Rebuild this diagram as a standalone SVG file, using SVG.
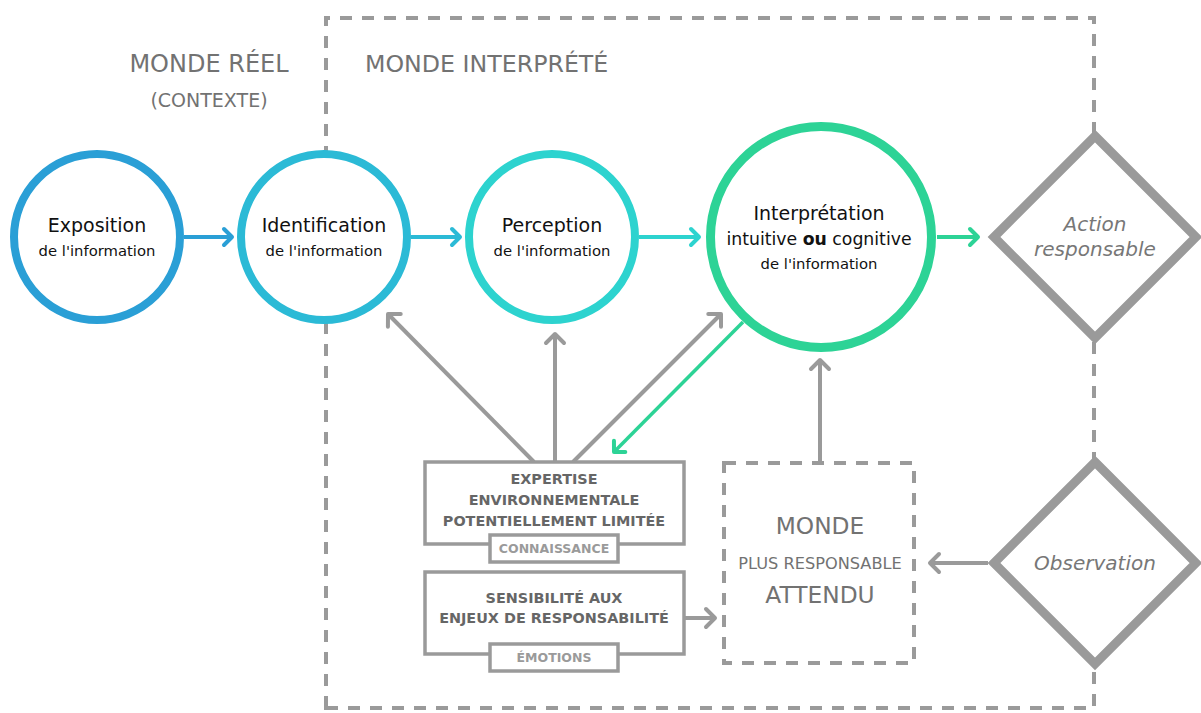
<svg xmlns="http://www.w3.org/2000/svg" width="1201" height="713" viewBox="0 0 1201 713">
<style>
text{font-family:"DejaVu Sans","Liberation Sans",sans-serif;}
.hdr{fill:#727272;}
.ct{fill:#111;text-anchor:middle;}
.frame{fill:none;stroke:#9a9a9a;stroke-width:4;stroke-dasharray:12 10;}
.box{fill:#fff;stroke:#9a9a9a;stroke-width:3.5;}
.bt{fill:#666;font-weight:bold;font-size:14.4px;text-anchor:middle;}
.st{fill:#9a9a9a;font-weight:bold;font-size:12.5px;text-anchor:middle;}
.dia{fill:#fff;stroke:#9a9a9a;stroke-width:9;}
.it{fill:#777;font-style:italic;font-size:20px;text-anchor:middle;}
.cg{fill:none;stroke:#9a9a9a;stroke-width:4;}
</style>
<defs>
<marker id="mg" viewBox="-12 -11 15 22" markerWidth="15" markerHeight="22" refX="0" refY="0" orient="auto" markerUnits="userSpaceOnUse" overflow="visible"><path d="M-9,-9 L0,0 L-9,9" fill="none" stroke="#9a9a9a" stroke-width="4" stroke-linecap="round" stroke-linejoin="round"/></marker>
<marker id="m1" viewBox="-12 -11 15 22" markerWidth="15" markerHeight="22" refX="0" refY="0" orient="auto" markerUnits="userSpaceOnUse" overflow="visible"><path d="M-8,-8 L0,0 L-8,8" fill="none" stroke="#2a9fd6" stroke-width="4" stroke-linecap="round" stroke-linejoin="round"/></marker>
<marker id="m2" viewBox="-12 -11 15 22" markerWidth="15" markerHeight="22" refX="0" refY="0" orient="auto" markerUnits="userSpaceOnUse" overflow="visible"><path d="M-8,-8 L0,0 L-8,8" fill="none" stroke="#2bbad6" stroke-width="4" stroke-linecap="round" stroke-linejoin="round"/></marker>
<marker id="m3" viewBox="-12 -11 15 22" markerWidth="15" markerHeight="22" refX="0" refY="0" orient="auto" markerUnits="userSpaceOnUse" overflow="visible"><path d="M-8,-8 L0,0 L-8,8" fill="none" stroke="#2dd3cf" stroke-width="4" stroke-linecap="round" stroke-linejoin="round"/></marker>
<marker id="m4" viewBox="-12 -11 15 22" markerWidth="15" markerHeight="22" refX="0" refY="0" orient="auto" markerUnits="userSpaceOnUse" overflow="visible"><path d="M-8,-8 L0,0 L-8,8" fill="none" stroke="#2dd396" stroke-width="4" stroke-linecap="round" stroke-linejoin="round"/></marker>
</defs>
<rect width="1201" height="713" fill="#fff"/>

<g id="frame">
<path class="frame" d="M326,708 L326,18 L1094,18 L1094,708 Z"/>
<text class="hdr" x="209" y="72" font-size="24" text-anchor="middle">MONDE RÉEL</text>
<text class="hdr" x="209" y="107" font-size="19" text-anchor="middle">(CONTEXTE)</text>
<text class="hdr" x="365" y="72" font-size="23.7">MONDE INTERPRÉTÉ</text>
</g>

<g id="connectors">
<line x1="184" y1="237" x2="232" y2="237" stroke="#2a9fd6" stroke-width="4" marker-end="url(#m1)"/>
<line x1="411" y1="237" x2="460" y2="237" stroke="#2bbad6" stroke-width="4" marker-end="url(#m2)"/>
<line x1="639" y1="237" x2="699" y2="237" stroke="#2dd3cf" stroke-width="4" marker-end="url(#m3)"/>
<line x1="937" y1="237" x2="978" y2="237" stroke="#2dd396" stroke-width="4" marker-end="url(#m4)"/>
<line class="cg" x1="534" y1="462" x2="388" y2="314" marker-end="url(#mg)"/>
<line class="cg" x1="555" y1="462" x2="555" y2="334" marker-end="url(#mg)"/>
<line class="cg" x1="573" y1="462" x2="721" y2="314" marker-end="url(#mg)"/>
<line x1="743" y1="322" x2="614" y2="452" stroke="#2dd396" stroke-width="3.5" marker-end="url(#m4)"/>
<line class="cg" x1="820" y1="463" x2="820" y2="360" marker-end="url(#mg)"/>
<line class="cg" x1="684" y1="618" x2="715" y2="618" marker-end="url(#mg)"/>
<line class="cg" x1="988" y1="563" x2="930" y2="563" marker-end="url(#mg)"/>
</g>

<g id="exposition">
<circle cx="97" cy="237" r="83" fill="#fff" stroke="#2a9fd6" stroke-width="8"/>
<text class="ct" x="97" y="232" font-size="19">Exposition</text>
<text class="ct" x="97" y="256" font-size="14.8">de l'information</text>
</g>
<g id="identification">
<circle cx="324" cy="237" r="83" fill="#fff" stroke="#2bbad6" stroke-width="8"/>
<text class="ct" x="324" y="232" font-size="19">Identification</text>
<text class="ct" x="324" y="256" font-size="14.8">de l'information</text>
</g>
<g id="perception">
<circle cx="552" cy="237" r="83" fill="#fff" stroke="#2dd3cf" stroke-width="8"/>
<text class="ct" x="552" y="232" font-size="19">Perception</text>
<text class="ct" x="552" y="256" font-size="14.8">de l'information</text>
</g>
<g id="interpretation">
<circle cx="821" cy="237" r="110.5" fill="#fff" stroke="#2dd396" stroke-width="9"/>
<text class="ct" x="819" y="220" font-size="19">Interprétation</text>
<text class="ct" x="819" y="245" font-size="17.3">intuitive <tspan font-weight="bold">ou</tspan> cognitive</text>
<text class="ct" x="819" y="269" font-size="14.8">de l'information</text>
</g>
<g id="action">
<path class="dia" d="M1095,136 L1196,237 L1095,338 L994,237 Z"/>
<text class="it" x="1095" y="231">Action</text>
<text class="it" x="1095" y="256">responsable</text>
</g>
<g id="observation">
<path class="dia" d="M1095,462 L1196,563 L1095,664 L994,563 Z"/>
<text class="it" x="1095" y="570">Observation</text>
</g>
<g id="expertise">
<rect class="box" x="425" y="462" width="259" height="82"/>
<text class="bt" x="554" y="484">EXPERTISE</text>
<text class="bt" x="554" y="505">ENVIRONNEMENTALE</text>
<text class="bt" x="554" y="526">POTENTIELLEMENT LIMITÉE</text>
<rect class="box" x="490" y="535" width="128" height="27"/>
<text class="st" x="554" y="553">CONNAISSANCE</text>
</g>
<g id="sensibilite">
<rect class="box" x="425" y="572" width="259" height="82"/>
<text class="bt" x="554" y="603">SENSIBILITÉ AUX</text>
<text class="bt" x="554" y="623">ENJEUX DE RESPONSABILITÉ</text>
<rect class="box" x="490" y="644" width="128" height="27"/>
<text class="st" x="554" y="662">ÉMOTIONS</text>
</g>
<g id="monde">
<rect x="724" y="463" width="190" height="200" fill="#fff" stroke="#9a9a9a" stroke-width="4" stroke-dasharray="12 10"/>
<text class="hdr" x="820" y="534" font-size="23.3" text-anchor="middle">MONDE</text>
<text class="hdr" x="820" y="569" font-size="16.2" text-anchor="middle">PLUS RESPONSABLE</text>
<text class="hdr" x="820" y="603" font-size="23.3" text-anchor="middle">ATTENDU</text>
</g>
</svg>
